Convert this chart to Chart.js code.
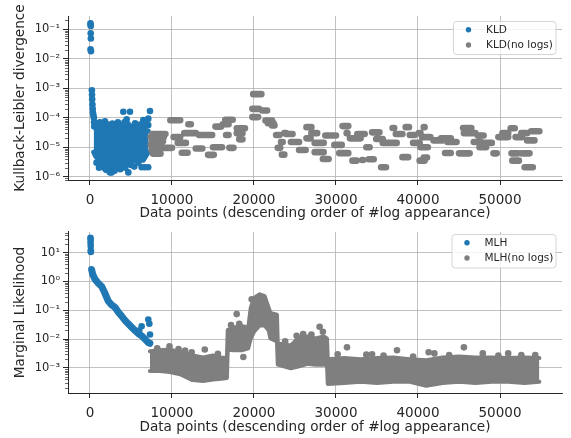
<!DOCTYPE html>
<html>
<head>
<meta charset="utf-8">
<script src="https://cdn.jsdelivr.net/npm/chart.js@4/dist/chart.umd.min.js"></script>
<style>
  body { margin: 0; background: #fff; }
  canvas { display: block; }
</style>
</head>
<body>
<canvas id="kldChart" width="571" height="222"></canvas>
<canvas id="mlhChart" width="571" height="216"></canvas>
<script>
// shared x ticks
const xTicks = [0, 10000, 20000, 30000, 40000, 50000];

// ---- top panel: KLD ----
const kldTicks = [1e-6, 1e-5, 1e-4, 1e-3, 1e-2, 1e-1];
const kldTickLabels = ['10⁻⁶', '10⁻⁵', '10⁻⁴', '10⁻³', '10⁻²', '10⁻¹'];

// blue points (with logs)
const kldX = [60, 80, 100, 90, 110, 70, 120, 230, 250, 270, 300, 330, 360, 420, 470, 500, 520,
  4065, 4880, 7317, 1830, 4472, 6504, 7114, 2724, 7100, 1830, 2643, 4675, 6300, 6700, 7100, 2439,
  900, 1200, 1500, 2100, 2500, 3000, 3400, 3700, 4200, 4600, 5200, 5500, 5900, 6200, 6800, 6900,
  800, 1100, 1400, 2000, 3000, 3300, 3700, 4300, 5000, 5400, 5900];
const kldY = [0.16, 0.14, 0.13, 0.073, 0.049, 0.021, 0.018, 8.5e-4, 6e-4, 4.2e-4, 2.8e-4, 2e-4, 1.5e-4, 1.2e-4, 1e-4, 7e-5, 5e-5,
  1.6e-4, 1.6e-4, 1.7e-4, 7.6e-5, 8.9e-5, 8.3e-5, 9.3e-5, 6.3e-5, 5.6e-5, 1.9e-6, 1.4e-6, 1.4e-6, 2.1e-6, 2.1e-6, 2.1e-6, 1.4e-6,
  6e-5, 7e-5, 5.5e-5, 6e-5, 5e-5, 6e-5, 7e-5, 5.5e-5, 7e-5, 6e-5, 5e-5, 6.5e-5, 5e-5, 6e-5, 5.5e-5, 7e-5,
  3e-6, 2e-6, 2.3e-6, 1.7e-6, 1.6e-6, 2e-6, 1.8e-6, 2e-6, 2.5e-6, 2.2e-6, 3e-6];
// dense blue cloud: upper / lower edge
const kldCloudX = [450, 700, 1600, 2400, 3300, 4000, 4900, 5700, 6500, 7100];
const kldCloudHi = [9.5e-5, 5e-5, 4.2e-5, 4.4e-5, 4.6e-5, 5.4e-5, 4.2e-5, 4e-5, 4e-5, 3.5e-5];
const kldCloudLo = [6.8e-6, 4.9e-6, 2.6e-6, 2.1e-6, 2.6e-6, 2.4e-6, 3.1e-6, 3.9e-6, 3.6e-6, 6.8e-6];

// grey runs (no logs): start, end, value
const kldNoLogStart = [7400, 7500, 7400, 7600, 7500, 8700, 7700, 9800, 12000, 10200, 11500, 13300, 10700, 11200, 12900, 14400,
  15000, 17000, 15300, 16200, 16500, 16600, 17900, 17900, 18200, 19900, 19800, 21000, 19800, 21400, 21700, 22200, 22700, 22900,
  23400, 23700, 23300, 23900, 24500, 25500, 26400, 27000, 26400, 27400, 27400, 28400, 28700, 29800, 30400, 30800, 31300, 31700,
  32000, 33200, 34000, 32600, 33700, 34400, 34900, 35500, 35700, 36900, 37300, 38100, 38500, 39000, 40200, 39400, 40300, 40700,
  40700, 40100, 40500, 41900, 42800, 43600, 43300, 45000, 45500, 45600, 46800, 47500, 48200, 49200, 49800, 50300, 51300, 51400,
  51500, 51900, 52600, 52600, 53000, 53300, 53800, 47300];
const kldNoLogEnd = [9000, 8900, 8700, 9200, 8400, 10000, 8600, 11000, 12300, 11000, 12900, 14900, 11700, 11900, 13700, 15100,
  16100, 17500, 16000, 16900, 17400, 16900, 18900, 18600, 18600, 20900, 20600, 21600, 20500, 22200, 22400, 22500, 23100, 23200,
  23700, 23900, 23500, 24700, 25500, 26300, 27000, 27700, 26900, 28500, 28500, 29100, 30000, 30700, 31500, 31500, 31400, 33000,
  32500, 33300, 34600, 33500, 34100, 35300, 35700, 36100, 37400, 37100, 38100, 38800, 38900, 39600, 40800, 40200, 41200, 41100,
  40800, 40300, 41500, 43000, 44000, 44700, 44000, 46300, 46500, 47000, 47700, 48300, 49000, 49600, 51000, 51000, 51800, 52200,
  52300, 52700, 53300, 53600, 54000, 54200, 54800, 48000];
const kldNoLogVal = [2.2e-5, 1.6e-5, 1.2e-5, 2.8e-5, 8e-6, 9.5e-6, 6e-6, 8.2e-5, 6e-5, 2.2e-5, 3e-5, 2.6e-5, 1.4e-5, 6.5e-6, 9e-6, 5.5e-6,
  1e-5, 9.5e-6, 5e-5, 6e-5, 8.5e-5, 2.6e-5, 4.4e-5, 3e-5, 1.85e-5, 6.3e-4, 2e-4, 1.75e-4, 1.05e-4, 8e-5, 6.5e-5, 5.5e-5, 2.6e-5, 9.5e-6,
  5.6e-6, 3e-5, 1.5e-5, 2.8e-5, 1.5e-5, 8e-6, 4.8e-5, 3e-5, 2e-5, 1.4e-5, 6.8e-6, 4e-6, 2.5e-5, 1.2e-5, 6.3e-6, 5.2e-5, 3e-5, 2e-5,
  3.5e-6, 3.7e-6, 3.9e-6, 2.8e-5, 1e-5, 3.2e-5, 1.9e-5, 2.1e-6, 1.4e-5, 4.5e-5, 2.8e-5, 4.6e-6, 4.8e-5, 2.6e-5, 3.5e-6, 1.4e-5, 1e-5, 4.5e-6,
  4.8e-5, 3e-5, 2.2e-5, 1.7e-5, 2e-5, 1.5e-5, 6.4e-6, 6.2e-6, 4.5e-5, 3e-5, 1.5e-5, 1e-5, 1.4e-5, 6.2e-6, 2.2e-5, 3e-5, 4.4e-5, 6.2e-6,
  3.5e-6, 2.2e-5, 3e-5, 6.2e-6, 2.1e-6, 1.7e-5, 3.5e-5, 2.5e-5];

// ---- bottom panel: MLH ----
const mlhTicks = [1e-3, 1e-2, 1e-1, 1, 10];
const mlhTickLabels = ['10⁻³', '10⁻²', '10⁻¹', '10⁰', '10¹'];

// blue points (with logs)
const mlhX = [60, 80, 70, 90, 100, 110, 7110, 7240, 6300, 7320, 6010];
const mlhY = [33, 28, 22, 17, 12, 10.5, 0.048, 0.034, 0.028, 0.0145, 0.02];
// blue decay trend
const mlhCurveX = [200, 330, 610, 1010, 1430, 1710, 1950, 2230, 2640, 3050, 3460, 3860, 4270, 4670, 5080, 5490, 5890, 6300, 6710, 7110, 7300];
const mlhCurveY = [2.6, 1.77, 1.19, 0.87, 0.67, 0.46, 0.32, 0.21, 0.153, 0.127, 0.086, 0.063, 0.045, 0.034, 0.026, 0.02, 0.0156, 0.013, 0.01, 0.0076, 0.0072];

// grey stray points (no logs)
const mlhNoLogX = [9700, 12400, 14000, 18700, 17890, 19720, 27000, 28000, 28400, 30200, 31340, 33700, 34400, 37440, 39400, 41300, 42000, 45600, 47900, 51000, 54300,
  8200, 10800, 11600, 15600, 17200, 18200, 23800, 25200, 26000, 35800, 43800, 49800, 52600];
const mlhNoLogY = [0.0056, 0.0035, 0.0044, 0.0024, 0.074, 0.24, 0.0144, 0.027, 0.018, 0.003, 0.0052, 0.0029, 0.003, 0.0041, 0.0025, 0.0035, 0.0032, 0.0052, 0.0032, 0.0032, 0.0028,
  0.0048, 0.0045, 0.004, 0.0031, 0.031, 0.034, 0.0085, 0.013, 0.015, 0.0027, 0.0028, 0.0027, 0.0028];
// dense grey band: upper / lower edge
const mlhBandX = [7300, 8500, 9700, 11000, 12500, 13800, 15000, 16000, 16700, 16800, 17500, 18500, 19300, 19600, 20000, 20700, 21300, 21800,
  22000, 22800, 22900, 24500, 25500, 26500, 27500, 28500, 28900, 29000, 31000, 33000, 35000, 37000, 39000, 41000, 43000, 45000, 47000,
  49000, 51000, 53000, 54800];
const mlhBandHi = [0.0038, 0.0041, 0.0044, 0.0035, 0.0027, 0.0023, 0.0027, 0.0023, 0.0022, 0.021, 0.025, 0.029, 0.025, 0.12, 0.27, 0.36, 0.31, 0.12,
  0.081, 0.07, 0.0071, 0.006, 0.0114, 0.0123, 0.0105, 0.0123, 0.0105, 0.002, 0.0022, 0.002, 0.0022, 0.0023, 0.002, 0.00185, 0.0023, 0.0025, 0.0023,
  0.0023, 0.0022, 0.0023, 0.0022];
const mlhBandLo = [0.00078, 0.00078, 0.00072, 0.00061, 0.00038, 0.00035, 0.0004, 0.00042, 0.00045, 0.0048, 0.0041, 0.0041, 0.0048, 0.0105, 0.018, 0.03, 0.03, 0.02,
  0.0105, 0.0083, 0.0013, 0.00098, 0.00115, 0.0014, 0.0013, 0.0013, 0.0013, 0.00028, 0.0003, 0.00033, 0.0003, 0.00033, 0.00033, 0.00024, 0.0003, 0.00033, 0.0003,
  0.00033, 0.00033, 0.0003, 0.00033];

const BLUE = '#1f77b4';
const GREY = '#7f7f7f';
const INK = '#262626';

Chart.defaults.font.family = '"DejaVu Sans", sans-serif';
Chart.defaults.color = INK;

const pts = (xs, ys) => xs.map((x, i) => ({ x, y: ys[i] }));

// each run becomes a short segment, broken by a null point
function runs(starts, ends, vals) {
  const out = [];
  starts.forEach((s, i) => {
    out.push({ x: s, y: vals[i] }, { x: ends[i], y: vals[i] }, { x: ends[i], y: null });
  });
  return out;
}

// small minor tick marks on the log axis
const minorTicks = {
  id: 'minorTicks',
  afterDraw(chart) {
    const y = chart.scales.y;
    const ctx = chart.ctx;
    ctx.save();
    ctx.strokeStyle = INK;
    ctx.lineWidth = 0.7;
    const e0 = Math.floor(Math.log10(y.min));
    const e1 = Math.ceil(Math.log10(y.max));
    for (let e = e0; e <= e1; e++) {
      for (let m = 2; m < 10; m++) {
        const v = m * Math.pow(10, e);
        if (v < y.min || v > y.max) continue;
        const p = Math.round(y.getPixelForValue(v)) + 0.5;
        ctx.beginPath();
        ctx.moveTo(y.right - 3, p);
        ctx.lineTo(y.right, p);
        ctx.stroke();
      }
    }
    ctx.restore();
  }
};

// framed legend inside the plot
const boxLegend = {
  id: 'boxLegend',
  afterDraw(chart, args, opts) {
    const ctx = chart.ctx;
    const items = chart.data.datasets.filter(d => d.label);
    ctx.save();
    ctx.beginPath();
    if (ctx.roundRect) ctx.roundRect(opts.left, opts.top, opts.width, opts.height, 3);
    else ctx.rect(opts.left, opts.top, opts.width, opts.height);
    ctx.fillStyle = 'rgba(255,255,255,0.8)';
    ctx.fill();
    ctx.strokeStyle = '#d5d5d5';
    ctx.lineWidth = 1;
    ctx.stroke();
    ctx.font = '10.5px "DejaVu Sans"';
    ctx.textBaseline = 'middle';
    items.forEach((d, i) => {
      const y = opts.top + 8.3 + i * 15.2;
      ctx.beginPath();
      ctx.arc(opts.left + 15, y, 2.7, 0, Math.PI * 2);
      ctx.fillStyle = d.backgroundColor;
      ctx.fill();
      ctx.fillStyle = INK;
      ctx.fillText(d.label, opts.left + 32.5, y);
    });
    ctx.restore();
  }
};

function panelScales(yMin, yMax, yTicks, yLabels, yTitle, xTitlePad, xHeight) {
  return {
    x: {
      type: 'linear',
      min: -2680,
      max: 57560,
      afterBuildTicks: s => { s.ticks = xTicks.map(v => ({ value: v })); },
      afterFit: s => { s.height = xHeight; },
      ticks: { callback: v => String(v), font: { size: 13.5 }, color: INK, padding: 7, maxRotation: 0, autoSkip: false },
      grid: { color: '#b0b0b0', lineWidth: 0.8, tickLength: 5, tickColor: INK, tickWidth: 1 },
      border: { color: INK, width: 1 },
      title: {
        display: true,
        text: 'Data points (descending order of #log appearance)',
        font: { size: 13.6 },
        color: INK,
        padding: { top: 0, bottom: xTitlePad }
      }
    },
    y: {
      type: 'logarithmic',
      min: yMin,
      max: yMax,
      afterBuildTicks: s => { s.ticks = yTicks.map(v => ({ value: v })); },
      afterFit: s => { s.width = 68; },
      ticks: { callback: (v, i) => yLabels[i], font: { size: 11.5 }, color: INK, padding: 3, autoSkip: false },
      grid: { color: '#b0b0b0', lineWidth: 0.8, tickLength: 5, tickColor: INK, tickWidth: 1 },
      border: { color: INK, width: 1 },
      title: { display: true, text: yTitle, font: { size: 13.6 }, color: INK, padding: { top: 12, bottom: 0 } }
    }
  };
}

// top chart
new Chart(document.getElementById('kldChart'), {
  type: 'scatter',
  data: {
    datasets: [
      {
        label: 'KLD',
        data: pts(kldX, kldY),
        backgroundColor: BLUE,
        pointRadius: 3.3,
        pointBorderWidth: 0,
        order: 2
      },
      {
        label: 'KLD(no logs)',
        type: 'line',
        data: runs(kldNoLogStart, kldNoLogEnd, kldNoLogVal),
        borderColor: GREY,
        backgroundColor: GREY,
        borderWidth: 6.6,
        borderCapStyle: 'round',
        pointRadius: 0,
        spanGaps: false,
        fill: false,
        order: 1
      },
      {
        type: 'line',
        data: pts(kldCloudX, kldCloudHi),
        borderColor: BLUE,
        backgroundColor: BLUE,
        borderWidth: 5,
        borderJoinStyle: 'round',
        borderCapStyle: 'round',
        pointRadius: 0,
        fill: '+1',
        order: 3
      },
      {
        type: 'line',
        data: pts(kldCloudX, kldCloudLo),
        borderColor: BLUE,
        backgroundColor: BLUE,
        borderWidth: 5,
        borderJoinStyle: 'round',
        borderCapStyle: 'round',
        pointRadius: 0,
        fill: false,
        order: 3
      }
    ]
  },
  options: {
    responsive: false,
    animation: false,
    events: [],
    layout: { padding: { top: 16, right: 9, left: 0, bottom: 0 } },
    scales: panelScales(Math.pow(10, -6.112), Math.pow(10, -0.549), kldTicks, kldTickLabels,
      'Kullback-Leibler divergence', 0, 42),
    plugins: {
      legend: { display: false },
      tooltip: { enabled: false },
      boxLegend: { left: 453.5, top: 21.5, width: 102.5, height: 33 }
    }
  },
  plugins: [minorTicks, boxLegend]
});

// bottom chart
new Chart(document.getElementById('mlhChart'), {
  type: 'scatter',
  data: {
    datasets: [
      {
        label: 'MLH',
        data: pts(mlhX, mlhY),
        backgroundColor: BLUE,
        pointRadius: 3.3,
        pointBorderWidth: 0,
        order: 2
      },
      {
        label: 'MLH(no logs)',
        data: pts(mlhNoLogX, mlhNoLogY),
        backgroundColor: GREY,
        pointRadius: 3.3,
        pointBorderWidth: 0,
        order: 1
      },
      {
        type: 'line',
        data: pts(mlhCurveX, mlhCurveY),
        borderColor: BLUE,
        borderWidth: 7,
        borderJoinStyle: 'round',
        borderCapStyle: 'round',
        pointRadius: 0,
        fill: false,
        order: 2
      },
      {
        type: 'line',
        data: pts(mlhBandX, mlhBandHi),
        borderColor: GREY,
        backgroundColor: GREY,
        borderWidth: 4,
        borderJoinStyle: 'round',
        borderCapStyle: 'round',
        pointRadius: 0,
        fill: '+1',
        order: 1
      },
      {
        type: 'line',
        data: pts(mlhBandX, mlhBandLo),
        borderColor: GREY,
        backgroundColor: GREY,
        borderWidth: 4,
        borderJoinStyle: 'round',
        borderCapStyle: 'round',
        pointRadius: 0,
        fill: false,
        order: 1
      }
    ]
  },
  options: {
    responsive: false,
    animation: false,
    events: [],
    layout: { padding: { top: 8, right: 9, left: 0, bottom: 0 } },
    scales: panelScales(Math.pow(10, -3.868), Math.pow(10, 1.72), mlhTicks, mlhTickLabels,
      'Marginal Likelihood', 2, 45),
    plugins: {
      legend: { display: false },
      tooltip: { enabled: false },
      boxLegend: { left: 452, top: 12.5, width: 104, height: 33.5 }
    }
  },
  plugins: [minorTicks, boxLegend]
});
</script>
</body>
</html>
